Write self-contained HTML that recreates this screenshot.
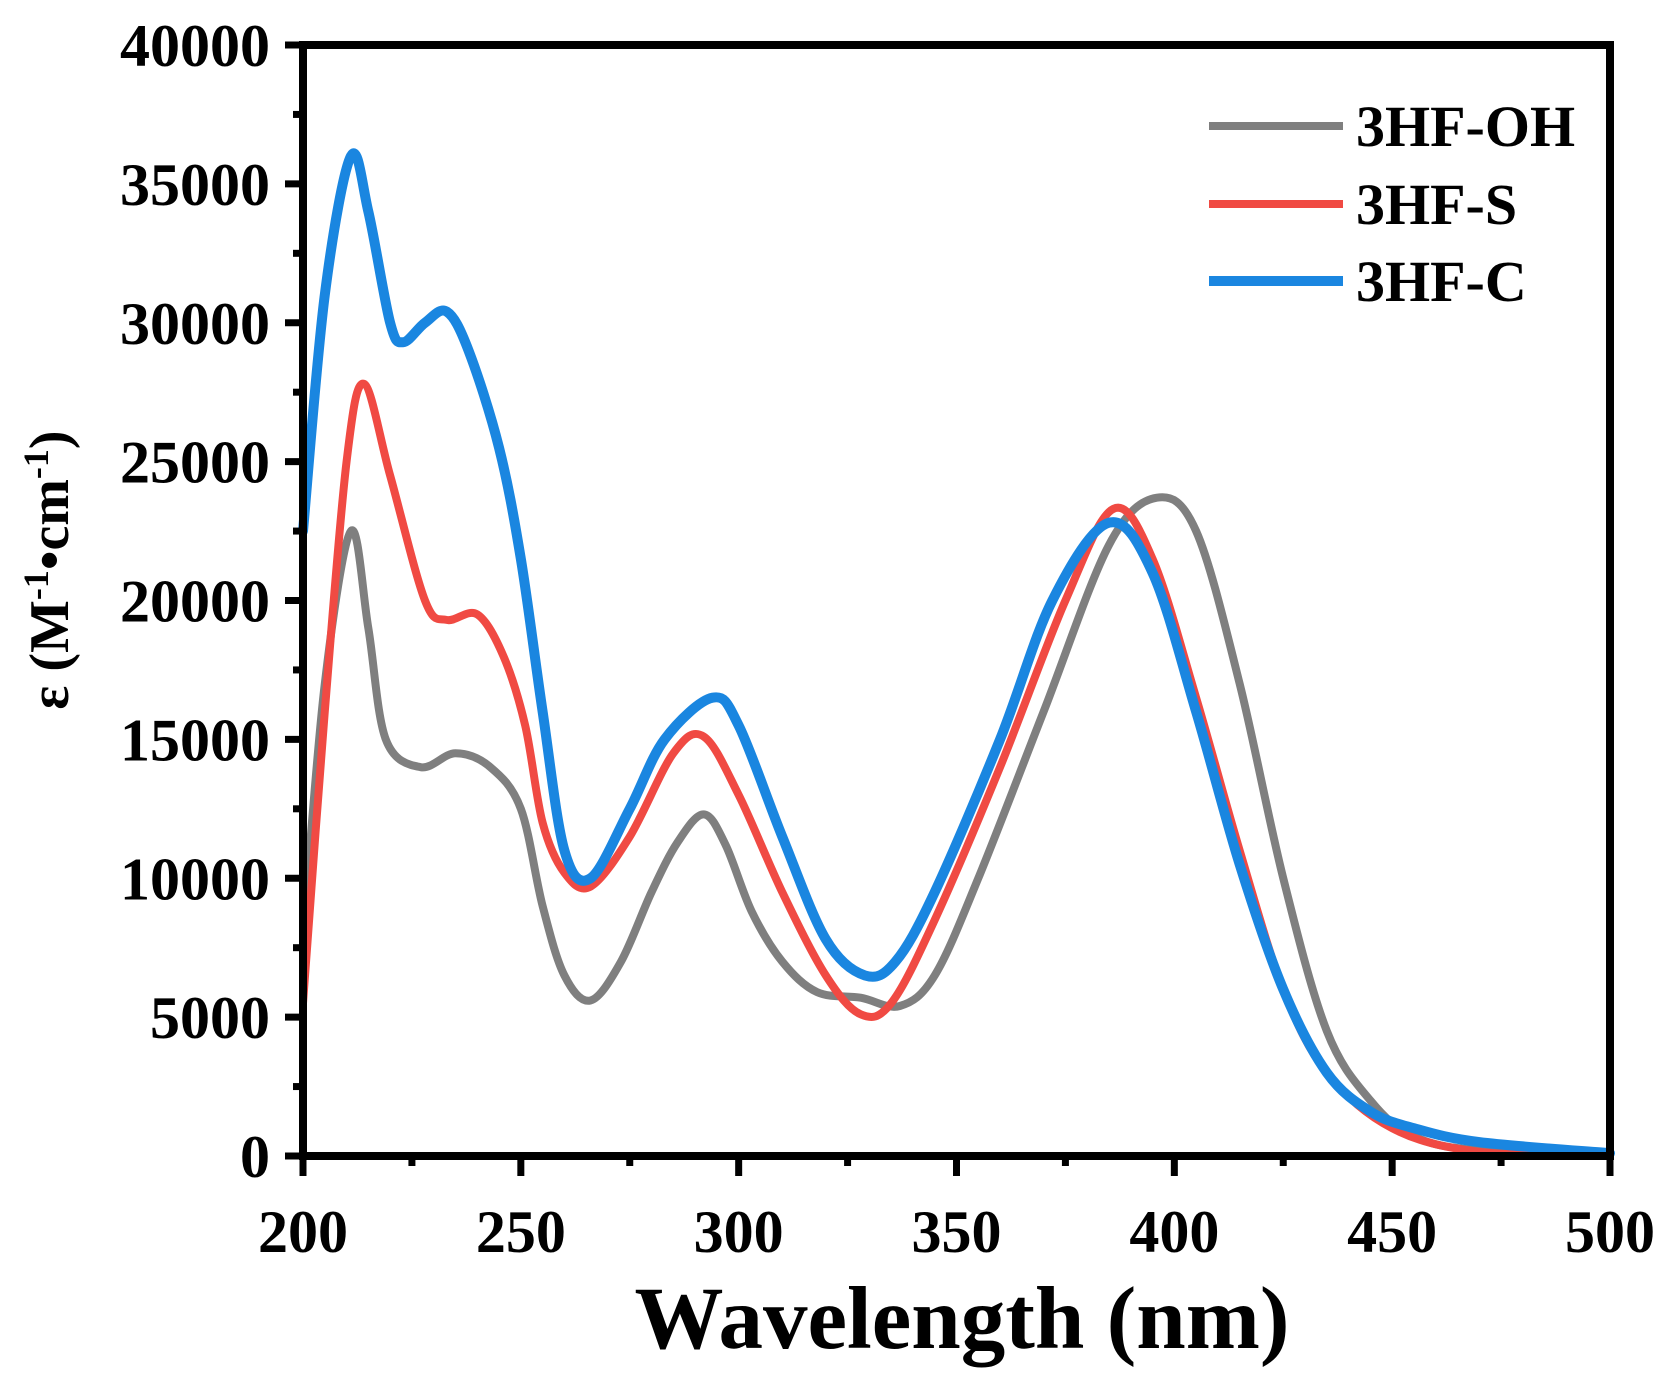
<!DOCTYPE html>
<html><head><meta charset="utf-8"><style>
html,body{margin:0;padding:0;background:#fff;}
svg{display:block;}
text{font-family:"Liberation Serif",serif;font-weight:bold;fill:#000;}
</style></head><body>
<svg id="s" width="1676" height="1380" viewBox="0 0 1676 1380" xmlns="http://www.w3.org/2000/svg">
<rect width="1676" height="1380" fill="#fff"/>
<g id="curves" fill="none" stroke-linejoin="round" stroke-linecap="round"></g>
<g stroke="#000" stroke-width="8" fill="none">
<rect x="303" y="45" width="1307" height="1111"/>
</g>
<g id="ticks" stroke="#000" stroke-width="7"></g>
<g id="labels" font-size="60"></g>
<g font-size="58">
<line x1="1209" y1="126" x2="1343" y2="126" stroke="#7f7f7f" stroke-width="8"/>
<line x1="1209" y1="204" x2="1343" y2="204" stroke="#f04a43" stroke-width="8"/>
<line x1="1209" y1="281" x2="1343" y2="281" stroke="#1a86e0" stroke-width="10"/>
<text x="1356" y="146">3HF-OH</text>
<text x="1356" y="224">3HF-S</text>
<text x="1356" y="301">3HF-C</text>
</g>
<text x="962" y="1348" font-size="89" text-anchor="middle">Wavelength (nm)</text>
<text transform="translate(68,570) rotate(-90)" font-size="56" text-anchor="middle">ε (M<tspan dy="-20" font-size="36">-1</tspan><tspan dy="20">•cm</tspan><tspan dy="-20" font-size="36">-1</tspan><tspan dy="20">)</tspan></text>
</svg>
<script>
var X=function(w){return 303+(w-200)*1307/300;};
var Y=function(v){return 1156-v*1111/40000;};
var ns="http://www.w3.org/2000/svg";
function path(pts){
  var p=pts.map(function(a){return [X(a[0]),Y(a[1])];});
  var d="M"+p[0][0]+","+p[0][1];
  for(var i=0;i<p.length-1;i++){
    var p0=p[i-1]||p[i],p1=p[i],p2=p[i+1],p3=p[i+2]||p2;
    var c1=[p1[0]+(p2[0]-p0[0])/6,p1[1]+(p2[1]-p0[1])/6];
    var c2=[p2[0]-(p3[0]-p1[0])/6,p2[1]-(p3[1]-p1[1])/6];
    d+=" C"+c1+" "+c2+" "+p2;
  }
  return d;
}
var gray=[[200,8000],[205,17000],[211,22500],[215,19000],[219,15000],[227,14000],[235,14500],[243,14000],[250,12500],[255,9000],[260,6500],[266,5600],[273,7000],[280,9500],[286,11300],[292,12300],[297,11200],[303,8800],[310,7000],[318,5900],[328,5700],[337,5400],[345,6500],[355,10000],[370,16000],[385,22000],[396,23700],[405,22500],[415,17000],[425,10000],[435,4500],[445,2000],[455,700],[470,200],[500,50]];
var red=[[200,5500],[205,16000],[210,25000],[214,27800],[220,24500],[228,20000],[233,19300],[240,19500],[246,18000],[251,15500],[255,12000],[260,10200],[266,9700],[275,11500],[285,14500],[292,15100],[300,13000],[310,9500],[320,6500],[328,5100],[335,5500],[345,8500],[360,14000],[375,20000],[386,23300],[395,21500],[405,16500],[415,11000],[425,6000],[435,3000],[450,1000],[470,150],[500,20]];
var blue=[[200,22500],[205,31000],[211,36000],[215,34000],[220,30000],[223,29300],[228,30000],[233,30400],[238,29000],[245,25500],[250,21500],[255,16000],[260,11000],[266,10000],[275,12500],[283,15000],[294,16500],[300,15500],[310,11500],[320,7800],[329,6500],[336,7000],[345,9500],[360,15000],[372,20000],[385,22800],[395,21000],[405,16000],[415,10500],[425,6000],[435,3000],[445,1600],[455,1000],[470,500],[500,100]];
var g=document.getElementById("curves");
[[gray,"#7f7f7f",8],[red,"#f04a43",8],[blue,"#1a86e0",10]].forEach(function(c){
  var e=document.createElementNS(ns,"path");e.setAttribute("d",path(c[0]));
  e.setAttribute("stroke",c[1]);e.setAttribute("stroke-width",c[2]);g.appendChild(e);
});
var t=document.getElementById("ticks"),L=document.getElementById("labels");
function ln(a,b,c,d){var e=document.createElementNS(ns,"line");e.setAttribute("x1",a);e.setAttribute("y1",b);e.setAttribute("x2",c);e.setAttribute("y2",d);t.appendChild(e);}
function tx(x,y,s,anc){var e=document.createElementNS(ns,"text");e.setAttribute("x",x);e.setAttribute("y",y);e.setAttribute("text-anchor",anc);e.textContent=s;L.appendChild(e);}
for(var v=0;v<=40000;v+=2500){var y=Y(v);ln(303,y,v%5000?293:285,y);if(v%5000==0)tx(270,y+21,String(v),"end");}
for(var w=200;w<=500;w+=25){var x=X(w);ln(x,1156,x,w%50?1166:1176);if(w%50==0)tx(x,1252,String(w),"middle");}
</script>
</body></html>
